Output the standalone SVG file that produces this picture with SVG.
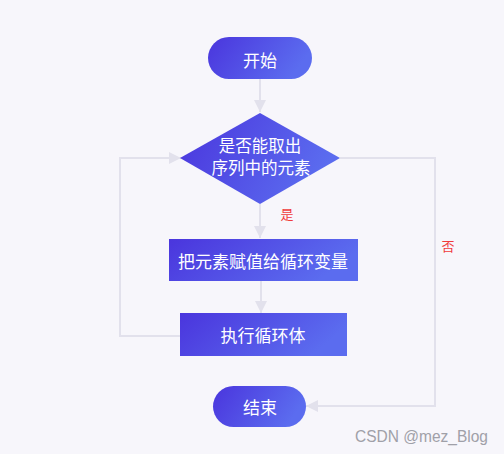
<svg xmlns="http://www.w3.org/2000/svg" width="504" height="454" viewBox="0 0 504 454">
<defs>
<linearGradient id="g" x1="0" y1="0" x2="1" y2="0.3">
<stop offset="0" stop-color="#4a35dd"/>
<stop offset="1" stop-color="#5b6cef"/>
</linearGradient>
<marker id="ah" viewBox="0 0 12 12" refX="12" refY="6" markerWidth="12" markerHeight="12" markerUnits="userSpaceOnUse" orient="auto">
<path d="M0,0 L12,6 L0,12 Z" fill="#e2e1ec"/>
</marker>
<style>
.n{fill:url(#g);}
.t{font-family:"Noto Sans CJK SC","Noto Sans",sans-serif;fill:#ffffff;text-anchor:middle;dominant-baseline:central;font-size:17px;}
.e{fill:none;stroke:#e2e1ec;stroke-width:2;}
.l{font-family:"Noto Sans CJK SC",sans-serif;fill:#f03b3b;font-size:13px;text-anchor:middle;dominant-baseline:central;}
</style>
</defs>
<rect width="504" height="454" fill="#f7f6fb"/>
<g id="edges">
<path class="e" d="M260,79 V112" marker-end="url(#ah)"/>
<path class="e" d="M260,204 V238" marker-end="url(#ah)"/>
<path class="e" d="M261,281 V313" marker-end="url(#ah)"/>
<path class="e" d="M180,336 H120 V158 H181" marker-end="url(#ah)"/>
<path class="e" d="M340,158 H435 V406 H306" marker-end="url(#ah)"/>
<text class="l" x="287" y="213">是</text>
<text class="l" x="448" y="245">否</text>
</g>
<g id="start">
<rect class="n" x="208" y="37" width="104" height="42" rx="21"/>
<text class="t" x="260" y="59">开始</text>
</g>
<g id="cond">
<path class="n" d="M260,113 L340,158 L260,204 L180,158 Z"/>
<text class="t" x="260" y="145" style="font-size:16.5px">是否能取出</text>
<text class="t" x="261" y="167" style="font-size:16.5px">序列中的元素</text>
</g>
<g id="assign">
<rect class="n" x="169" y="239" width="189" height="42"/>
<text class="t" x="263" y="260">把元素赋值给循环变量</text>
</g>
<g id="body">
<rect class="n" x="180" y="313" width="167" height="43"/>
<text class="t" x="263" y="334">执行循环体</text>
</g>
<g id="end">
<rect class="n" x="213" y="386" width="93" height="41" rx="20.5"/>
<text class="t" x="260" y="406">结束</text>
</g>
<text x="355" y="442" font-family="'Liberation Sans',sans-serif" font-size="16" fill="#a0a0a8" textLength="133" lengthAdjust="spacingAndGlyphs">CSDN @mez_Blog</text>
</svg>
